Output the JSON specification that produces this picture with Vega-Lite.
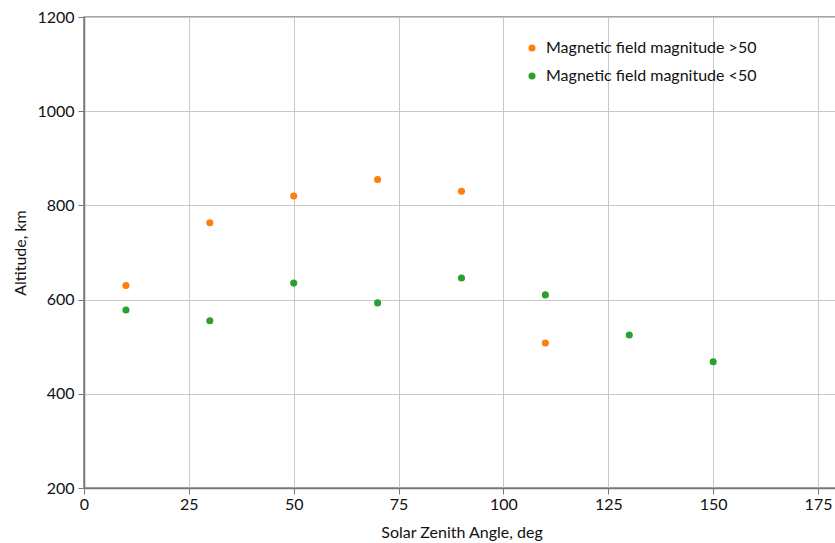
{
  "$schema": "https://vega.github.io/schema/vega-lite/v6.json",
  "autosize": {"type": "none"},
  "width": 755,
  "height": 471,
  "padding": {"left": 84, "top": 17, "right": 0, "bottom": 55},
  "background": "white",
  "config": {
    "font": "Lato",
    "view": {"stroke": "#888", "strokeWidth": 1.5},
    "axis": {
      "labelFont": "Lato",
      "titleFont": "Lato",
      "labelFontSize": 16,
      "titleFontSize": 16,
      "titleFontWeight": "normal",
      "labelColor": "#111",
      "titleColor": "#111",
      "gridColor": "#c8c8c8",
      "gridWidth": 1,
      "domainColor": "#777",
      "domainWidth": 1.5,
      "tickColor": "#777",
      "tickSize": 6
    }
  },
  "data": {
    "values": [
      {"sza": 10, "alt": 630, "group": "Magnetic field magnitude >50"},
      {"sza": 30, "alt": 763, "group": "Magnetic field magnitude >50"},
      {"sza": 50, "alt": 820, "group": "Magnetic field magnitude >50"},
      {"sza": 70, "alt": 855, "group": "Magnetic field magnitude >50"},
      {"sza": 90, "alt": 830, "group": "Magnetic field magnitude >50"},
      {"sza": 110, "alt": 508, "group": "Magnetic field magnitude >50"},
      {"sza": 10, "alt": 578, "group": "Magnetic field magnitude <50"},
      {"sza": 30, "alt": 555, "group": "Magnetic field magnitude <50"},
      {"sza": 50, "alt": 635, "group": "Magnetic field magnitude <50"},
      {"sza": 70, "alt": 593, "group": "Magnetic field magnitude <50"},
      {"sza": 90, "alt": 646, "group": "Magnetic field magnitude <50"},
      {"sza": 110, "alt": 610, "group": "Magnetic field magnitude <50"},
      {"sza": 130, "alt": 525, "group": "Magnetic field magnitude <50"},
      {"sza": 150, "alt": 468, "group": "Magnetic field magnitude <50"}
    ]
  },
  "mark": {"type": "point", "filled": true, "opacity": 1, "size": 50},
  "encoding": {
    "x": {
      "field": "sza",
      "type": "quantitative",
      "scale": {"domain": [0, 180], "nice": false},
      "axis": {"title": "Solar Zenith Angle, deg", "values": [0, 25, 50, 75, 100, 125, 150, 175], "format": "d", "labelFlush": false, "labelPadding": 2, "titlePadding": 12}
    },
    "y": {
      "field": "alt",
      "type": "quantitative",
      "scale": {"domain": [200, 1200], "nice": false},
      "axis": {"title": "Altitude, km", "values": [200, 400, 600, 800, 1000, 1200], "format": "d", "titlePadding": 8, "labelPadding": 4}
    },
    "color": {
      "field": "group",
      "type": "nominal",
      "scale": {
        "domain": ["Magnetic field magnitude >50", "Magnetic field magnitude <50"],
        "range": ["#ff7f0e", "#2ca02c"]
      },
      "legend": {
        "title": null,
        "orient": "none",
        "legendX": 440,
        "legendY": 23,
        "labelFontSize": 16,
        "labelFont": "Lato",
        "labelColor": "#111",
        "labelLimit": 400,
        "symbolType": "circle",
        "symbolSize": 50,
        "rowPadding": 12,
        "labelOffset": 6
      }
    }
  }
}
